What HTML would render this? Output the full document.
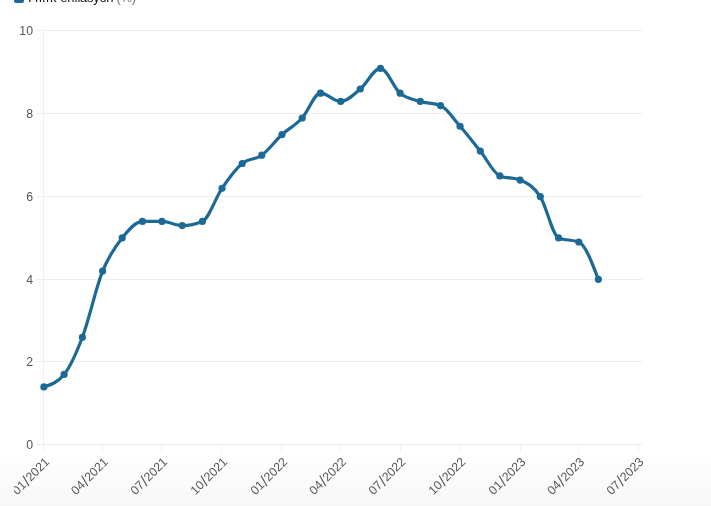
<!DOCTYPE html>
<html><head><meta charset="utf-8"><style>
html,body{margin:0;padding:0;background:#fff;}
body{width:711px;height:506px;overflow:hidden;position:relative;font-family:"Liberation Sans",sans-serif;}
.bg{position:absolute;left:0;top:0;width:711px;height:506px;background:linear-gradient(to bottom,#fff 0,#fff 452px,#f7f7f7 506px);}
svg{position:absolute;left:0;top:0;}
svg text{font-family:"Liberation Sans",sans-serif;font-size:12.3px;fill:#555;}
.leg{position:absolute;left:14px;top:-8px;width:10px;height:10.5px;border-radius:2px;background:#1d6996;}
.legt{position:absolute;left:25.5px;top:-10.5px;filter:grayscale(1);font-size:13px;line-height:16px;color:#111;white-space:nowrap;letter-spacing:0}
.legt span{color:#777} .legt b{font-weight:normal;letter-spacing:0.55px} .legt i{font-style:normal;letter-spacing:-0.3px}
</style></head><body>
<div class="bg"></div>
<div class="leg"></div>
<div class="legt"><b>Yıllık</b><i> enflasyon <span>(%)</span></i></div>
<svg width="711" height="506" viewBox="0 0 711 506"><defs><clipPath id="c"><rect x="14.3" y="440" width="700" height="70"/></clipPath><filter id="g" x="0" y="0" width="1" height="1" filterUnits="objectBoundingBox"><feColorMatrix type="saturate" values="1"/></filter></defs>
<g stroke="#eeeeee" stroke-width="1" shape-rendering="crispEdges"><line x1="36" x2="642" y1="444.50" y2="444.50"/><line x1="36" x2="642" y1="361.50" y2="361.50"/><line x1="36" x2="642" y1="279.50" y2="279.50"/><line x1="36" x2="642" y1="196.50" y2="196.50"/><line x1="36" x2="642" y1="113.50" y2="113.50"/><line x1="36" x2="642" y1="30.50" y2="30.50"/><line x1="43.5" x2="43.5" y1="27" y2="444"/><line stroke="#f3f3f3" x1="43.90" x2="43.90" y1="445" y2="453"/><line stroke="#f3f3f3" x1="102.61" x2="102.61" y1="445" y2="453"/><line stroke="#f3f3f3" x1="161.97" x2="161.97" y1="445" y2="453"/><line stroke="#f3f3f3" x1="221.98" x2="221.98" y1="445" y2="453"/><line stroke="#f3f3f3" x1="281.99" x2="281.99" y1="445" y2="453"/><line stroke="#f3f3f3" x1="340.70" x2="340.70" y1="445" y2="453"/><line stroke="#f3f3f3" x1="400.06" x2="400.06" y1="445" y2="453"/><line stroke="#f3f3f3" x1="460.07" x2="460.07" y1="445" y2="453"/><line stroke="#f3f3f3" x1="520.08" x2="520.08" y1="445" y2="453"/><line stroke="#f3f3f3" x1="578.79" x2="578.79" y1="445" y2="453"/><line stroke="#f3f3f3" x1="638.15" x2="638.15" y1="445" y2="453"/></g>
<g filter="url(#g)"><text x="33" y="448.60" text-anchor="end">0</text><text x="33" y="365.60" text-anchor="end">2</text><text x="33" y="283.60" text-anchor="end">4</text><text x="33" y="200.60" text-anchor="end">6</text><text x="33" y="117.60" text-anchor="end">8</text><text x="33" y="34.60" text-anchor="end">10</text><g clip-path="url(#c)"><text transform="translate(50.10,462.70) rotate(-45)" text-anchor="end">01<tspan font-size="16" dx="0.4" dy="1.6">/</tspan><tspan dx="0.4" dy="-1.6">2021</tspan></text><text transform="translate(108.81,462.70) rotate(-45)" text-anchor="end">04<tspan font-size="16" dx="0.4" dy="1.6">/</tspan><tspan dx="0.4" dy="-1.6">2021</tspan></text><text transform="translate(168.17,462.70) rotate(-45)" text-anchor="end">07<tspan font-size="16" dx="0.4" dy="1.6">/</tspan><tspan dx="0.4" dy="-1.6">2021</tspan></text><text transform="translate(228.18,462.70) rotate(-45)" text-anchor="end">10<tspan font-size="16" dx="0.4" dy="1.6">/</tspan><tspan dx="0.4" dy="-1.6">2021</tspan></text><text transform="translate(288.19,462.70) rotate(-45)" text-anchor="end">01<tspan font-size="16" dx="0.4" dy="1.6">/</tspan><tspan dx="0.4" dy="-1.6">2022</tspan></text><text transform="translate(346.90,462.70) rotate(-45)" text-anchor="end">04<tspan font-size="16" dx="0.4" dy="1.6">/</tspan><tspan dx="0.4" dy="-1.6">2022</tspan></text><text transform="translate(406.26,462.70) rotate(-45)" text-anchor="end">07<tspan font-size="16" dx="0.4" dy="1.6">/</tspan><tspan dx="0.4" dy="-1.6">2022</tspan></text><text transform="translate(466.27,462.70) rotate(-45)" text-anchor="end">10<tspan font-size="16" dx="0.4" dy="1.6">/</tspan><tspan dx="0.4" dy="-1.6">2022</tspan></text><text transform="translate(526.28,462.70) rotate(-45)" text-anchor="end">01<tspan font-size="16" dx="0.4" dy="1.6">/</tspan><tspan dx="0.4" dy="-1.6">2023</tspan></text><text transform="translate(584.99,462.70) rotate(-45)" text-anchor="end">04<tspan font-size="16" dx="0.4" dy="1.6">/</tspan><tspan dx="0.4" dy="-1.6">2023</tspan></text><text transform="translate(644.35,462.70) rotate(-45)" text-anchor="end">07<tspan font-size="16" dx="0.4" dy="1.6">/</tspan><tspan dx="0.4" dy="-1.6">2023</tspan></text></g></g>
<path d="M43.90,386.88C50.64,384.81,57.38,382.75,64.12,374.47C70.21,367.00,76.30,353.22,82.39,337.24C89.13,319.55,95.87,287.69,102.61,271.05C109.13,254.94,115.65,246.18,122.18,237.95C128.92,229.44,135.66,221.40,142.40,221.40C148.92,221.40,155.44,221.40,161.97,221.40C168.71,221.40,175.45,225.54,182.19,225.54C188.93,225.54,195.67,224.16,202.41,221.40C208.93,218.73,215.45,197.85,221.98,188.31C228.72,178.44,235.46,169.00,242.20,163.48C248.72,158.14,255.25,159.89,261.77,155.21C268.51,150.37,275.25,140.73,281.99,134.53C288.73,128.32,295.47,125.41,302.21,117.98C308.30,111.27,314.39,93.16,320.48,93.16C327.22,93.16,333.96,101.43,340.70,101.43C347.22,101.43,353.74,94.40,360.27,89.02C367.01,83.45,373.75,68.33,380.49,68.33C387.01,68.33,393.53,87.82,400.06,93.16C406.80,98.67,413.54,99.36,420.28,101.43C427.02,103.50,433.76,102.81,440.50,105.57C447.02,108.24,453.54,118.81,460.07,126.25C466.81,133.94,473.55,142.66,480.29,151.07C486.81,159.22,493.33,173.23,499.86,175.90C506.60,178.65,513.34,177.27,520.08,180.03C526.82,182.79,533.56,185.94,540.30,196.58C546.39,206.19,552.48,235.46,558.56,237.95C565.31,240.71,572.05,239.33,578.79,242.09C585.31,244.76,591.83,262.04,598.36,279.32" fill="none" stroke="#1d6996" stroke-width="3.2" stroke-linejoin="round" stroke-linecap="round"/>
<g fill="#1d6996"><circle cx="43.90" cy="386.88" r="3.6"/><circle cx="64.12" cy="374.47" r="3.6"/><circle cx="82.39" cy="337.24" r="3.6"/><circle cx="102.61" cy="271.05" r="3.6"/><circle cx="122.18" cy="237.95" r="3.6"/><circle cx="142.40" cy="221.40" r="3.6"/><circle cx="161.97" cy="221.40" r="3.6"/><circle cx="182.19" cy="225.54" r="3.6"/><circle cx="202.41" cy="221.40" r="3.6"/><circle cx="221.98" cy="188.31" r="3.6"/><circle cx="242.20" cy="163.48" r="3.6"/><circle cx="261.77" cy="155.21" r="3.6"/><circle cx="281.99" cy="134.53" r="3.6"/><circle cx="302.21" cy="117.98" r="3.6"/><circle cx="320.48" cy="93.16" r="3.6"/><circle cx="340.70" cy="101.43" r="3.6"/><circle cx="360.27" cy="89.02" r="3.6"/><circle cx="380.49" cy="68.33" r="3.6"/><circle cx="400.06" cy="93.16" r="3.6"/><circle cx="420.28" cy="101.43" r="3.6"/><circle cx="440.50" cy="105.57" r="3.6"/><circle cx="460.07" cy="126.25" r="3.6"/><circle cx="480.29" cy="151.07" r="3.6"/><circle cx="499.86" cy="175.90" r="3.6"/><circle cx="520.08" cy="180.03" r="3.6"/><circle cx="540.30" cy="196.58" r="3.6"/><circle cx="558.56" cy="237.95" r="3.6"/><circle cx="578.79" cy="242.09" r="3.6"/><circle cx="598.36" cy="279.32" r="3.6"/></g>
</svg>
</body></html>
